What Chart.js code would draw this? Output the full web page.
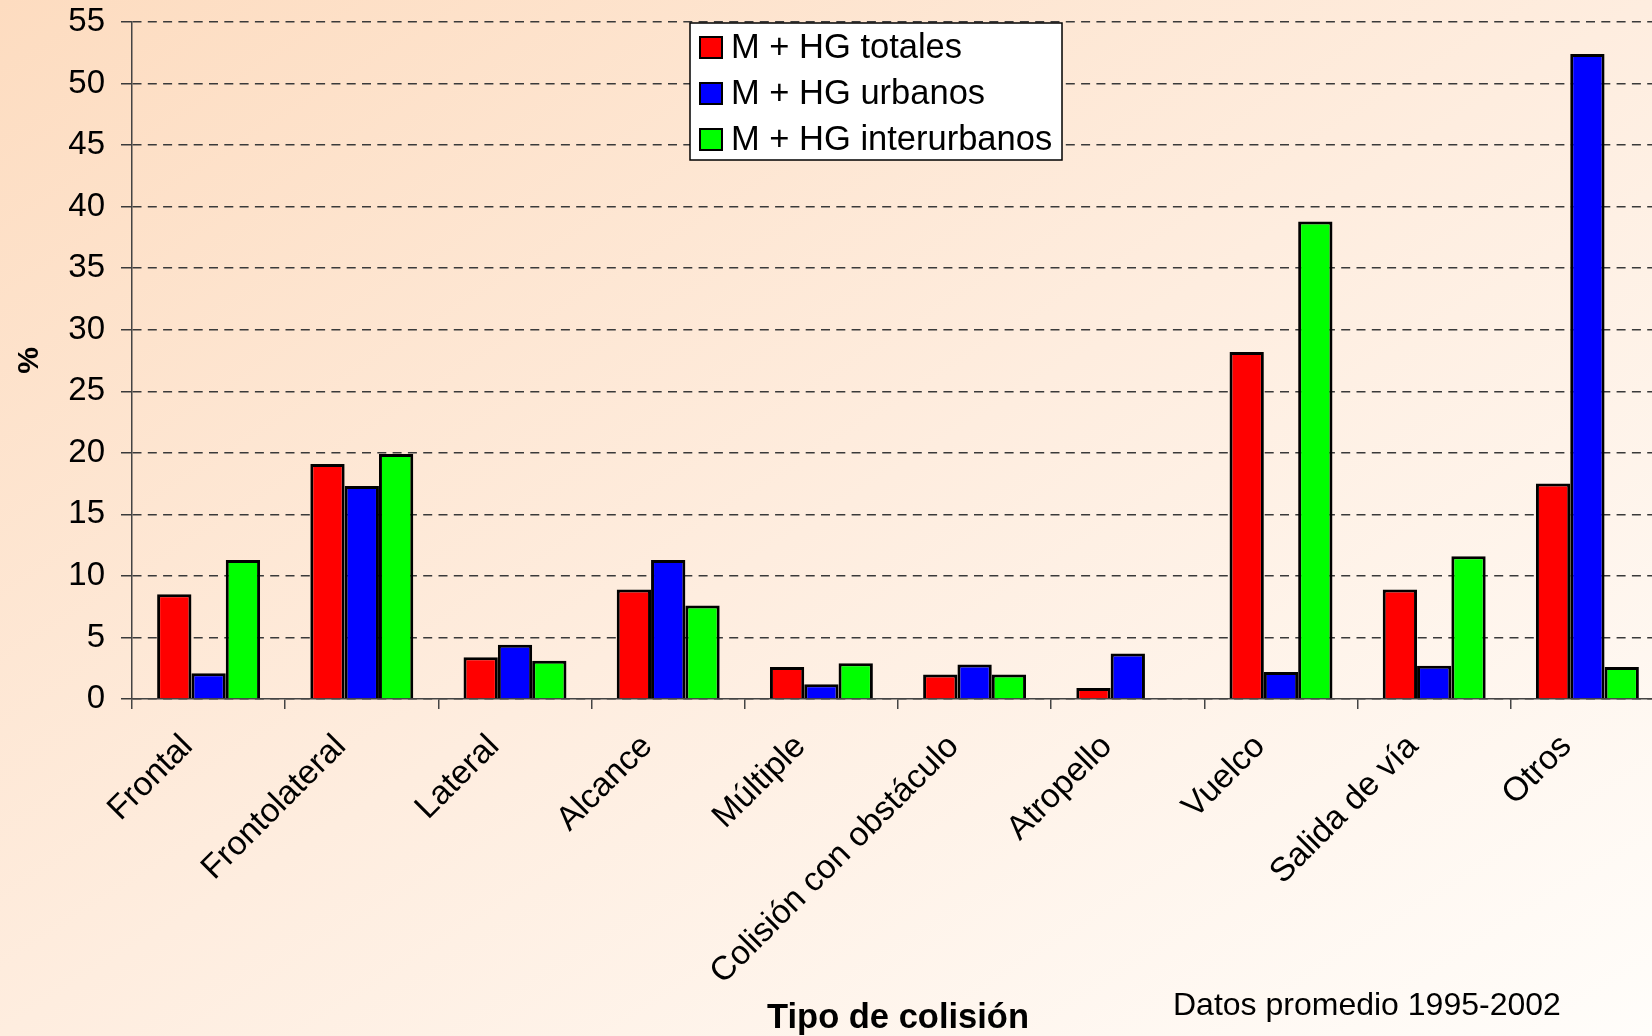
<!DOCTYPE html>
<html>
<head>
<meta charset="utf-8">
<script src="https://cdn.jsdelivr.net/npm/chart.js@4/dist/chart.umd.min.js"></script>
<style>
  html, body { margin: 0; padding: 0; }
  body {
    width: 1652px; height: 1036px; overflow: hidden;
    background: linear-gradient(to bottom right, #FDDCC0 0%, #FEEDDF 50%, #FFFDFA 100%);
  }
  #wrap { position: relative; width: 1652px; height: 1036px; overflow: hidden; }
  canvas { display: block; }
</style>
</head>
<body>
<div id="wrap">
  <canvas id="chart" width="1700" height="1036" style="width:1700px;height:1036px"></canvas>
</div>
<script>
// Tipo de colisión (categorías del eje X)
const categories = ['Frontal', 'Frontolateral', 'Lateral', 'Alcance', 'Múltiple',
  'Colisión con obstáculo', 'Atropello', 'Vuelco', 'Salida de vía', 'Otros'];

// Porcentaje de muertos + heridos graves por tipo de colisión
const totales      = [8.5, 19.1, 3.4, 8.9, 2.6, 2.0, 0.9, 28.2, 8.9, 17.5];
const urbanos      = [2.1, 17.3, 4.4, 11.3, 1.2, 2.8, 3.7, 2.2, 2.7, 52.4];
const interurbanos = [11.3, 19.9, 3.1, 7.6, 2.9, 2.0, null, 38.8, 11.6, 2.6];

const seriesNames  = ['M + HG totales', 'M + HG urbanos', 'M + HG interurbanos'];
const seriesColors = ['#FF0000', '#0000FF', '#00FF00'];

const yTicks = [0, 5, 10, 15, 20, 25, 30, 35, 40, 45, 50, 55];

const FONT = '"Liberation Sans", Arial, sans-serif';
Chart.defaults.font.family = FONT;
Chart.defaults.color = '#000';

// Leyenda en recuadro blanco sobre el área del gráfico, y nota de fuente
const boxLegend = {
  id: 'boxLegend',
  afterDraw(chart) {
    const ctx = chart.ctx;
    ctx.save();
    const bx = 690, by = 23, bw = 372, bh = 137;
    ctx.fillStyle = '#FFFFFF';
    ctx.fillRect(bx, by, bw, bh);
    ctx.lineWidth = 1.5;
    ctx.strokeStyle = '#000';
    ctx.strokeRect(bx, by, bw, bh);
    ctx.font = '34.5px ' + FONT;
    ctx.textBaseline = 'middle';
    ctx.textAlign = 'left';
    chart.data.datasets.forEach((ds, i) => {
      const cy = 47.5 + i * 46;
      ctx.fillStyle = ds.backgroundColor;
      ctx.fillRect(700, cy - 10.5, 22, 21);
      ctx.lineWidth = 2;
      ctx.strokeStyle = '#000';
      ctx.strokeRect(700, cy - 10.5, 22, 21);
      ctx.fillStyle = '#000';
      ctx.fillText(ds.label, 731, cy + 1);
    });
    ctx.font = '32px ' + FONT;
    ctx.fillText('Datos promedio 1995-2002', 1173, 1006);
    ctx.restore();
  }
};

new Chart(document.getElementById('chart'), {
  type: 'bar',
  data: {
    labels: categories,
    datasets: [totales, urbanos, interurbanos].map((values, i) => ({
      label: seriesNames[i],
      data: values,
      backgroundColor: seriesColors[i],
      borderColor: '#000',
      borderWidth: 3,
      categoryPercentage: 0.672,
      barPercentage: 1.0
    }))
  },
  options: {
    responsive: false,
    animation: false,
    devicePixelRatio: 1,
    layout: { padding: { top: 22, right: 36, left: 0, bottom: 0 } },
    plugins: { legend: { display: false }, tooltip: { enabled: false } },
    scales: {
      x: {
        grid: { offset: true, drawOnChartArea: false, tickLength: 10, color: '#444', lineWidth: 1.5 },
        border: { color: '#444', width: 1.5 },
        ticks: {
          autoSkip: false, minRotation: 45, maxRotation: 45,
          color: '#000', font: { size: 33.5 }, padding: 18, labelOffset: -21
        },
        title: {
          display: true, text: 'Tipo de colisión', color: '#000',
          font: { size: 34.5, weight: 'bold', lineHeight: 1.0 }, padding: { top: 0, bottom: 0 }
        },
        afterFit(scale) {
          scale.height = 337;
          scale.paddingLeft = 0;
          scale.paddingRight = 0;
        }
      },
      y: {
        min: 0, max: 55,
        afterBuildTicks(scale) { scale.ticks = yTicks.map(v => ({ value: v })); },
        grid: { color: '#3a3a3a', lineWidth: 1.5, tickLength: 11 },
        border: { color: '#444', width: 1.5, dash: [9, 6.3] },
        ticks: { color: '#000', font: { size: 33 }, padding: 16 },
        title: {
          display: true, text: '%', color: '#000',
          font: { size: 30, weight: 'bold' }, padding: { top: 12, bottom: 0 }
        },
        afterFit(scale) {
          scale.width = 132;
          scale.paddingTop = 0;
          scale.paddingBottom = 0;
        }
      }
    }
  },
  plugins: [boxLegend]
});
</script>
</body>
</html>
